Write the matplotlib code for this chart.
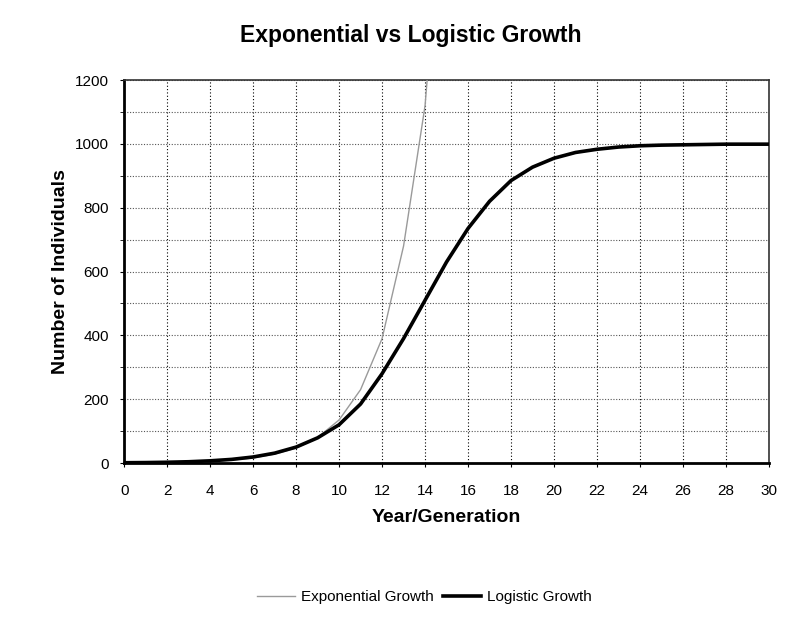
import matplotlib
matplotlib.use("Agg")
import matplotlib.pyplot as plt
from matplotlib.ticker import MultipleLocator

plt.rcParams['font.family'] = ['Liberation Sans', 'DejaVu Sans']

years = list(range(0, 31))
exp_years = list(range(0, 16))
exponential = [0.7, 1.2, 2.0, 3.3, 5.6, 9.5, 16, 28, 47, 80, 135, 230, 390, 680, 1120, 1950]
logistic = [1, 1.5, 2.5, 4.1, 7, 11.5, 19, 31, 50, 79, 120, 185, 280, 390, 510, 630,
            735, 820, 885, 927, 955, 973, 983, 990, 994, 996, 997, 998, 999, 999, 999]
x_ticks = list(range(0, 31, 2))
y_ticks = list(range(0, 1201, 200))

fig = plt.figure(figsize=(8.01, 6.30), dpi=100)
ax = fig.add_axes([0.155, 0.265, 0.805, 0.608])

ax.plot(exp_years, exponential, color='#9a9a9a', lw=1.0, label='Exponential Growth', zorder=3)
ax.plot(years, logistic, color='black', lw=2.6, label='Logistic Growth', zorder=4)

ax.set_xlim(0, 30)
ax.set_ylim(0, 1200)
ax.set_xticks(x_ticks)
ax.set_yticks(y_ticks)
ax.yaxis.set_minor_locator(MultipleLocator(100))
ax.grid(True, which='major', axis='x', color='black', ls=(0, (1, 2)), lw=0.8)
ax.grid(True, which='both', axis='y', color='#555555', ls=(0, (1, 1.5)), lw=0.8)

for s in ['left', 'bottom']:
    ax.spines[s].set_linewidth(2.0)
for s in ['top', 'right']:
    ax.spines[s].set_linewidth(1.2)
    ax.spines[s].set_color('#333333')

ax.tick_params(axis='both', which='major', labelsize=11, length=3, pad=12)
ax.tick_params(axis='y', which='major', pad=8)
ax.tick_params(axis='y', which='minor', length=3)

ax.set_xlabel('Year/Generation', fontsize=14, fontweight='bold', labelpad=8)
ax.set_ylabel('Number of Individuals', fontsize=14, fontweight='bold', labelpad=4)
fig.suptitle('Exponential vs Logistic Growth', fontsize=16.5, fontweight='bold', x=0.513, y=0.962)

fig.legend(loc='center', bbox_to_anchor=(0.53, 0.052), ncol=2, frameon=False,
           fontsize=11, handlelength=2.5, columnspacing=0.6, handletextpad=0.4)

fig.savefig('out.png', dpi=100, facecolor='white')
